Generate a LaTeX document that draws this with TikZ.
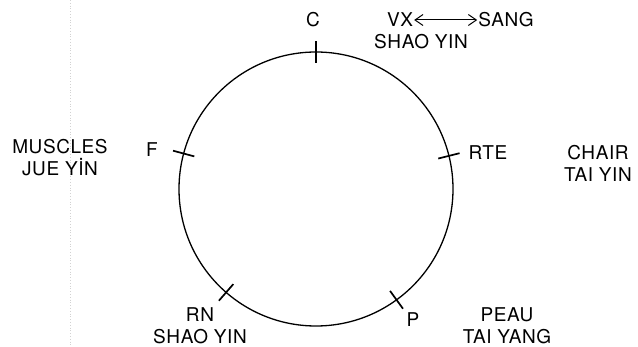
\documentclass[tikz,border=0pt]{standalone}
\usepackage{fontspec}
\setmainfont[LetterSpace=3]{TeX Gyre Heros}
\usetikzlibrary{positioning,arrows.meta,calc}

\begin{document}
\begin{tikzpicture}[x=1pt,y=-1pt,
		lbl/.style={font=\fontsize{19}{22}\selectfont,inner sep=1pt,align=center},
		ring/.style={draw,circle,line width=1.3pt,minimum size=274pt,inner sep=0pt},
		marktick/.style={line width=1.7pt}]
		\useasboundingbox (0,0) rectangle (638,347);
		\draw[gray!35,dotted,line width=0.8pt] (70,0) -- (70,347);
		\node[ring] (cyc) at (316,189) {};
		\foreach \a in {90,14,165,229,306}
			\draw[marktick] ($(cyc.center)!126pt!(cyc.\a)$) -- ($(cyc.center)!148pt!(cyc.\a)$);
		% points on the cycle
		\node[lbl] (c)   at (313,20)  {C};
		\node[lbl] (rte) at (488,153) {RTE};
		\node[lbl] (f)   at (152,150) {F};
		\node[lbl] (rn)  at (200,326) {RN\\SHAO YIN};
		\node[lbl] (p)   at (413,320) {P};
		% outer labels
		\node[lbl] (vx)   at (400,20) {VX};
		\node[lbl] (sang) at (506,20) {SANG};
		\node[lbl] (shao) at (421,42) {SHAO YIN};
		\node[lbl] (muscles) at (60,158)  {MUSCLES\\JUE Y\.IN};
		\node[lbl] (chair)   at (598,163) {CHAIR\\TAI YIN};
		\node[lbl] (peau)    at (507,326) {PEAU\\TAI YANG};
		\path[{Straight Barb[length=8pt,width=11pt]}-{Straight Barb[length=8pt,width=11pt]},line width=1pt]
		(vx) edge (sang);
\end{tikzpicture}
\end{document}
